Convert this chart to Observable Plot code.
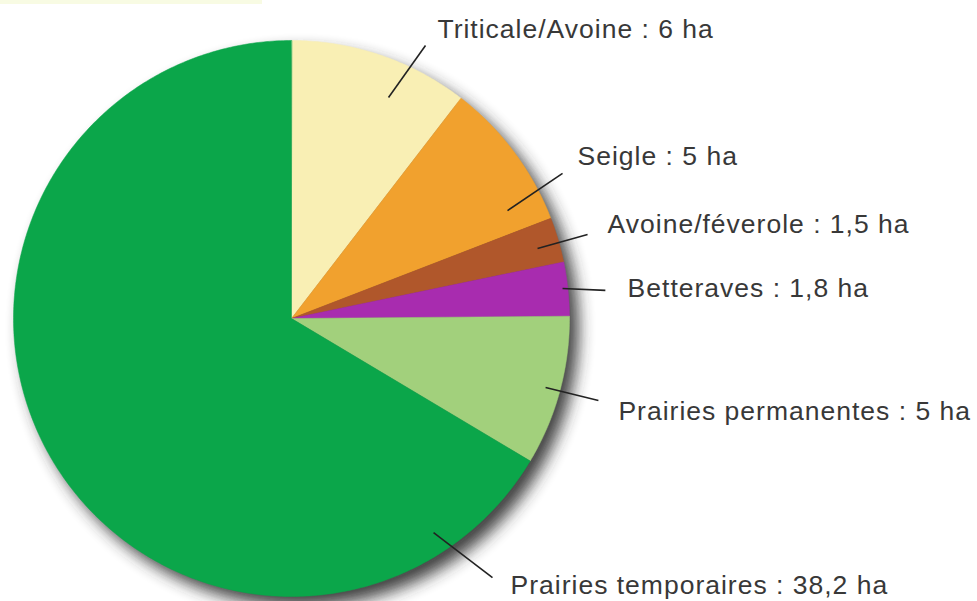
<!DOCTYPE html>
<html>
<head>
<meta charset="utf-8">
<script src="https://cdn.jsdelivr.net/npm/d3@7"></script>
<script src="https://cdn.jsdelivr.net/npm/@observablehq/plot@0.6"></script>
<style>
  html, body { margin: 0; padding: 0; background: #fff; }
  #chart { position: relative; width: 977px; height: 601px; }
  #strip { position: absolute; left: 0; top: 0; width: 262px; height: 4px; background: #f8fbe3; }
</style>
</head>
<body>
<div id="chart"><div id="strip"></div></div>
<script>
// Data (hectares), clockwise from 12 o'clock
const crops = ["Triticale/Avoine", "Seigle", "Avoine/féverole", "Betteraves", "Prairies permanentes", "Prairies temporaires"];
const hectares = [6, 5, 1.5, 1.8, 5, 38.2];
const colors = ["#f9efb4", "#f1a12e", "#b0572b", "#a82caf", "#a2d07c", "#0ba64a"];

// Annotation layout in chart units (pie radius = 1): leader line inner/outer ends and label anchor
const leaderInnerX = [0.349, 0.777, 0.885, 0.975, 0.914, 0.511];
const leaderInnerY = [0.795, 0.388, 0.252, 0.108, -0.248, -0.770];
const leaderOuterX = [0.482, 0.975, 1.065, 1.129, 1.104, 0.723];
const leaderOuterY = [0.982, 0.522, 0.302, 0.101, -0.295, -0.932];
const labelX = [0.525, 1.029, 1.137, 1.209, 1.176, 0.788];
const labelY = [1.040, 0.583, 0.338, 0.108, -0.335, -0.960];

const table = crops.map((name, i) => ({name, value: hectares[i]}));
const arcs = d3.pie().value(d => d.value).sort(null)(table);

// slice polygons sampled along arcs computed by d3.pie (planar, radius 1)
const slices = arcs.map(a => {
  const ring = [[0, 0]];
  const n = Math.max(2, Math.ceil((a.endAngle - a.startAngle) / 0.01));
  for (let k = 0; k <= n; k++) {
    const t = a.startAngle + (a.endAngle - a.startAngle) * k / n;
    ring.push([Math.sin(t), Math.cos(t)]);
  }
  ring.push([0, 0]);
  return {type: "Feature", properties: {name: a.data.name}, geometry: {type: "Polygon", coordinates: [ring]}};
});
const discRing = d3.range(0, 721).map(k => [Math.sin(2 * Math.PI * k / 720), Math.cos(2 * Math.PI * k / 720)]);
const disc = {type: "Polygon", coordinates: [discRing]};
const frameSquare = {type: "Polygon", coordinates: [[[-1, -1], [1, -1], [1, 1], [-1, 1], [-1, -1]]]};

const fmt = v => String(v).replace(".", ",");
const labels = crops.map((name, i) => ({
  text: `${name} : ${fmt(hectares[i])} ha`,
  x1: leaderInnerX[i], y1: leaderInnerY[i],
  x2: leaderOuterX[i], y2: leaderOuterY[i],
  lx: labelX[i], ly: labelY[i]
}));

const plot = Plot.plot({
  width: 977,
  height: 601,
  marginLeft: 13,
  marginRight: 408,
  marginTop: 40,
  marginBottom: 5,
  style: {fontFamily: "'Liberation Sans', Arial, Helvetica, sans-serif", background: "transparent", overflow: "visible"},
  projection: {type: "reflect-y", domain: frameSquare, inset: 0, clip: false},
  color: {domain: crops, range: colors},
  marks: [
    Plot.geo(disc, {fill: "#2e2e2e", stroke: "none", dx: 9, dy: 10, clip: false}),
    Plot.geo(slices, {fill: d => d.properties.name, stroke: d => d.properties.name, strokeWidth: 0.5, clip: false}),
    Plot.link(labels, {x1: "x1", y1: "y1", x2: "x2", y2: "y2", curve: "linear", stroke: "#222", strokeWidth: 1.6, clip: false}),
    Plot.text(labels, {x: "lx", y: "ly", text: "text", textAnchor: "start", fontSize: 26.5, fill: "#383838", clip: false})
  ]
});

// blur the shadow (first geo mark)
const svg = d3.select(plot);
const defs = svg.append("defs");
defs.append("filter").attr("id", "pieBlur")
  .attr("x", "-20%").attr("y", "-20%").attr("width", "140%").attr("height", "140%")
  .append("feGaussianBlur").attr("stdDeviation", 8);
const geoGroups = plot.querySelectorAll('g[aria-label="geo"]');
if (geoGroups.length) d3.select(geoGroups[0]).attr("filter", "url(#pieBlur)").attr("opacity", 0.9);
svg.selectAll("text").style("letter-spacing", "1px");

document.getElementById("chart").appendChild(plot);
plot.style.position = "absolute";
plot.style.left = "0";
plot.style.top = "0";
</script>
</body>
</html>
